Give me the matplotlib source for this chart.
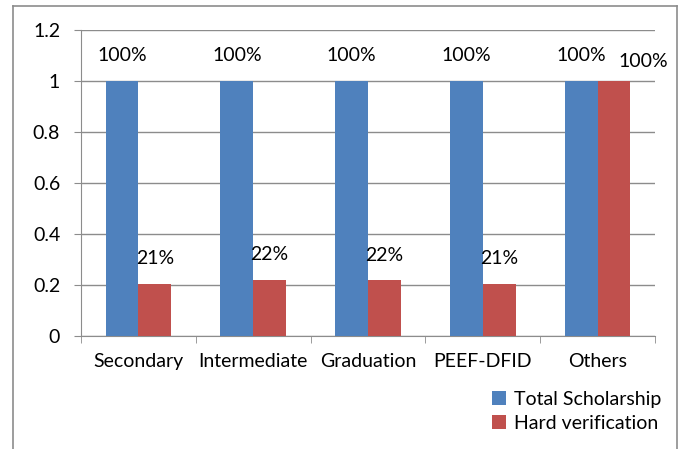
import matplotlib.pyplot as plt
import numpy as np

categories = ["Secondary", "Intermediate", "Graduation", "PEEF-DFID", "Others"]
total_scholarship = [1.0, 1.0, 1.0, 1.0, 1.0]
hard_verification = [0.205, 0.22, 0.218, 0.205, 1.0]
total_labels = ["100%", "100%", "100%", "100%", "100%"]
hard_labels = ["21%", "22%", "22%", "21%", "100%"]

plt.rcParams["font.family"] = ["Lato", "DejaVu Sans"]
fs = 14

fig = plt.figure(figsize=(6.86, 4.49), dpi=100)
ax = fig.add_axes([81 / 686, 1 - 336 / 449, (655 - 81) / 686, (336 - 30) / 449])

# outer frame like the excel chart area (bottom edge is cut off)
fig.add_artist(plt.Line2D([13 / 686, 13 / 686], [0, 1 - 6 / 449], transform=fig.transFigure, color="#8c8c8c", lw=1.2))
fig.add_artist(plt.Line2D([677 / 686, 677 / 686], [0, 1 - 6 / 449], transform=fig.transFigure, color="#8c8c8c", lw=1.2))
fig.add_artist(plt.Line2D([13 / 686, 677 / 686], [1 - 6 / 449, 1 - 6 / 449], transform=fig.transFigure, color="#8c8c8c", lw=1.2))

x = np.arange(len(categories))
w = 1 / 3.5
b1 = ax.bar(x - w / 2, total_scholarship, w, color="#4f81bd", label="Total Scholarship", zorder=3)
b2 = ax.bar(x + w / 2, hard_verification, w, color="#c0504d", label="Hard verification", zorder=3)

for rect, lab in zip(b1, total_labels):
    ax.annotate(lab, (rect.get_x() + rect.get_width() / 2, rect.get_height()),
                xytext=(0, 12), textcoords="offset points", ha="center", va="bottom", fontsize=fs)
for i, (rect, lab) in enumerate(zip(b2, hard_labels)):
    # last label is nudged right and down in the original so it doesn't collide
    off = 8 if i == len(hard_labels) - 1 else 12
    dx = 21 if i == len(hard_labels) - 1 else 0
    ax.annotate(lab, (rect.get_x() + rect.get_width() / 2, rect.get_height()),
                xytext=(dx, off), textcoords="offset points", ha="center", va="bottom", fontsize=fs)

ax.set_xlim(-0.5, len(categories) - 0.5)
ax.set_ylim(0, 1.2)
ax.set_yticks([0, 0.2, 0.4, 0.6, 0.8, 1, 1.2])
ax.set_yticklabels(["0", "0.2", "0.4", "0.6", "0.8", "1", "1.2"], fontsize=fs)
ax.set_xticks(x)
ax.set_xticklabels(categories, fontsize=fs)
ax.set_xticks(np.arange(-0.5, len(categories)), minor=True)
ax.tick_params(axis="x", which="major", length=0, pad=12)
ax.tick_params(axis="x", which="minor", length=5, color="#8c8c8c")
ax.tick_params(axis="y", length=5, color="#8c8c8c", pad=10)
ax.grid(axis="y", color="#8c8c8c", lw=1, zorder=0)
for s in ["top", "right"]:
    ax.spines[s].set_visible(False)
for s in ["left", "bottom"]:
    ax.spines[s].set_color("#8c8c8c")

fig.legend(loc="upper left", bbox_to_anchor=(492 / 686, 1 - 391 / 449), frameon=False,
           fontsize=fs, handlelength=0.7, handleheight=0.7, handletextpad=0.45, labelspacing=0.35,
           borderpad=0, borderaxespad=0)

plt.savefig("out.png", dpi=100)
